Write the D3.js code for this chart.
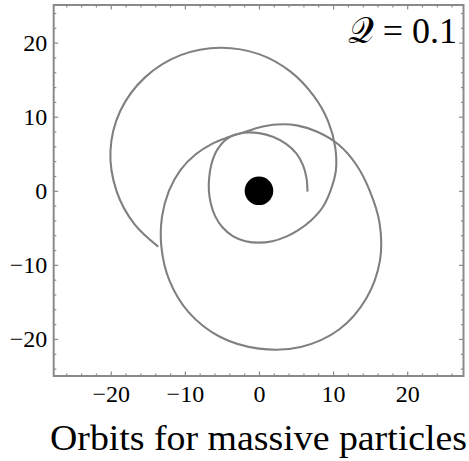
<!DOCTYPE html>
<html>
<head>
<meta charset="utf-8">
<script src="https://cdn.jsdelivr.net/npm/d3@7"></script>
<style>
  html, body { margin: 0; padding: 0; background: #fff; }
  svg { display: block; }
  text { font-family: "Liberation Serif", "DejaVu Serif", serif; fill: #000; }
</style>
</head>
<body>
<svg id="chart" width="469" height="461"></svg>
<script>
// Orbit of a massive particle around a charged black hole (Q = 0.1), units of M.
// Orbit samples are given in polar form about the hole: angle phi (degrees), radius r.

// Spiralling arc: starts near r ≈ 6.6, whirls once, then swings out to r ≈ 21.7.
const spiralPhi = [-1, 15, 30, 45, 60, 75, 90, 105, 120, 135, 150, 165, 180, 195, 210,
  225, 240, 255, 270, 285, 300, 315, 330, 345, 360, 375, 390, 405, 420, 435, 450,
  465, 480, 495, 510, 525, 540, 555, 569];
const spiralR = [6.55, 6.64, 6.87, 7.13, 7.32, 7.53, 7.79, 8.10, 8.25, 7.92, 7.38, 6.95,
  6.76, 6.72, 6.83, 6.97, 7.07, 7.04, 7.00, 7.04, 7.18, 7.50, 8.07, 8.85, 9.65, 10.75,
  11.87, 13.22, 14.78, 16.62, 18.45, 20.00, 21.15, 21.70, 21.60, 20.75, 19.23, 17.40, 15.55];

// Closed outer loop: periapsis ≈ 8.15, apoapsis ≈ 21.8.
const loopPhi = [0, 15, 30, 45, 60, 75, 90, 105, 120, 135, 150, 165, 180, 195, 210,
  225, 240, 255, 270, 285, 300, 315, 330, 345];
const loopR = [14.95, 13.60, 12.43, 11.22, 10.20, 9.27, 8.55, 8.15, 8.33, 8.97, 9.85,
  10.95, 12.15, 13.55, 15.20, 17.10, 18.95, 20.40, 21.30, 21.82, 21.62, 20.50, 18.85, 16.85];

// Event horizon radius, drawn as the black disk.
const horizonRadius = 1.93;

const xDomain = [-27.7, 27.6];
const yDomain = [-25.0, 25.08];
const majorTicks = [-20, -10, 0, 10, 20];
const minorTicksX = [-26, -24, -22, -18, -16, -14, -12, -8, -6, -4, -2, 2, 4, 6, 8, 12, 14, 16, 18, 22, 24, 26];
const minorTicksY = [-24, -22, -18, -16, -14, -12, -8, -6, -4, -2, 2, 4, 6, 8, 12, 14, 16, 18, 22, 24];

const chartLabel = "𝒬";
const chartValue = " = 0.1";
const title = "Orbits for massive particles";

const plotLeft = 53.7, plotRight = 463.5, plotTop = 5, plotBottom = 376;

const svg = d3.select("#chart");
const x = d3.scaleLinear().domain(xDomain).range([plotLeft, plotRight]);
const y = d3.scaleLinear().domain(yDomain).range([plotBottom, plotTop]);

const frameColor = "#8a8a8a";
const curveColor = "#808080";

// polar samples -> cartesian points
const toXY = (phi, r) => phi.map((p, i) => {
  const a = p * Math.PI / 180;
  return [r[i] * Math.cos(a), r[i] * Math.sin(a)];
});
const spiralPts = toXY(spiralPhi, spiralR);
const loopPts = toXY(loopPhi, loopR);

// plot area clip
svg.append("clipPath").attr("id", "plotClip")
  .append("rect").attr("x", plotLeft).attr("y", plotTop)
  .attr("width", plotRight - plotLeft).attr("height", plotBottom - plotTop);

const plot = svg.append("g").attr("clip-path", "url(#plotClip)");

const line = d3.line().x(d => x(d[0])).y(d => y(d[1]));

plot.append("path")
  .datum(spiralPts)
  .attr("d", line.curve(d3.curveCatmullRom.alpha(0.5)))
  .attr("fill", "none").attr("stroke", curveColor).attr("stroke-width", 2.1)
  .attr("stroke-linejoin", "round");

plot.append("path")
  .datum(loopPts)
  .attr("d", line.curve(d3.curveCatmullRomClosed.alpha(0.5)))
  .attr("fill", "none").attr("stroke", curveColor).attr("stroke-width", 2.1)
  .attr("stroke-linejoin", "round");

plot.append("circle")
  .attr("cx", x(0)).attr("cy", y(0))
  .attr("r", x(horizonRadius) - x(0))
  .attr("fill", "#000");

// axes: inward ticks on all four sides
function styleAxis(g) {
  g.select(".domain").remove();
  g.selectAll(".tick line").attr("stroke", frameColor).attr("stroke-width", 1.2);
  g.selectAll(".tick text").attr("font-size", 24).attr("font-family", "Liberation Serif, serif").attr("fill", "#000");
}

const majorLen = -4.5, minorLen = -2.6;

svg.append("g").attr("transform", `translate(0,${plotBottom})`)
  .call(d3.axisBottom(x).tickValues(majorTicks).tickSize(majorLen).tickPadding(8.5))
  .call(styleAxis);
svg.append("g").attr("transform", `translate(0,${plotBottom})`)
  .call(d3.axisBottom(x).tickValues(minorTicksX).tickSize(minorLen).tickFormat(""))
  .call(styleAxis);

svg.append("g").attr("transform", `translate(0,${plotTop})`)
  .call(d3.axisTop(x).tickValues(majorTicks).tickSize(majorLen).tickFormat(""))
  .call(styleAxis);
svg.append("g").attr("transform", `translate(0,${plotTop})`)
  .call(d3.axisTop(x).tickValues(minorTicksX).tickSize(minorLen).tickFormat(""))
  .call(styleAxis);

svg.append("g").attr("transform", `translate(${plotLeft},0)`)
  .call(d3.axisLeft(y).tickValues(majorTicks).tickSize(majorLen).tickPadding(6.4))
  .call(styleAxis);
svg.append("g").attr("transform", `translate(${plotLeft},0)`)
  .call(d3.axisLeft(y).tickValues(minorTicksY).tickSize(minorLen).tickFormat(""))
  .call(styleAxis);

svg.append("g").attr("transform", `translate(${plotRight},0)`)
  .call(d3.axisRight(y).tickValues(majorTicks).tickSize(majorLen).tickFormat(""))
  .call(styleAxis);
svg.append("g").attr("transform", `translate(${plotRight},0)`)
  .call(d3.axisRight(y).tickValues(minorTicksY).tickSize(minorLen).tickFormat(""))
  .call(styleAxis);

// frame
svg.append("rect")
  .attr("x", plotLeft).attr("y", plotTop)
  .attr("width", plotRight - plotLeft).attr("height", plotBottom - plotTop)
  .attr("fill", "none").attr("stroke", frameColor).attr("stroke-width", 2);

// charge label in the top-right corner
const lab = svg.append("text")
  .attr("x", 457).attr("y", 43)
  .attr("text-anchor", "end")
  .attr("font-size", 36);
lab.append("tspan").text(chartLabel);
lab.append("tspan").text(chartValue);

// caption below the axis
svg.append("text")
  .attr("x", 258.5).attr("y", 450)
  .attr("text-anchor", "middle")
  .attr("font-size", 35)
  .attr("textLength", 417)
  .attr("lengthAdjust", "spacingAndGlyphs")
  .text(title);
</script>
</body>
</html>
